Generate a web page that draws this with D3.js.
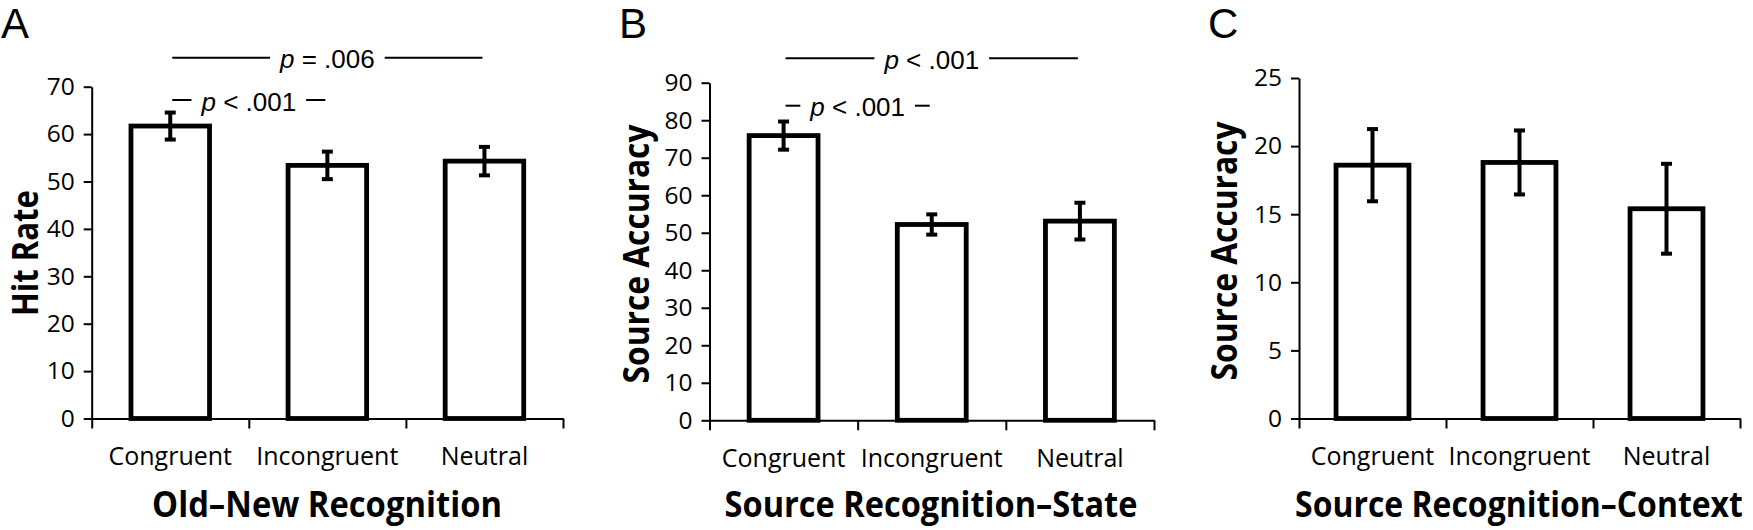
<!DOCTYPE html>
<html>
<head>
<meta charset="utf-8">
<script src="https://cdn.jsdelivr.net/npm/d3@7"></script>
<style>
  html, body { margin: 0; padding: 0; background: #fff; }
  svg { display: block; }
</style>
</head>
<body>
<svg id="chart" width="1753" height="530"></svg>
<script>
// ---------------- DATA ----------------
const categories = ["Congruent", "Incongruent", "Neutral"];

const hitRate      = [61.7, 53.4, 54.3];
const hitRateErr   = [2.85, 2.9, 3.0];

const stateAcc     = [75.9, 52.2, 53.1];
const stateAccErr  = [3.75, 2.7, 4.9];

const contextAcc    = [18.6, 18.8, 15.4];
const contextAccErr = [2.65, 2.35, 3.3];

const yTicksA = [0, 10, 20, 30, 40, 50, 60, 70];
const yTicksB = [0, 10, 20, 30, 40, 50, 60, 70, 80, 90];
const yTicksC = [0, 5, 10, 15, 20, 25];

const panelLetters = ["A", "B", "C"];
const xTitles = ["Old\u2013New Recognition", "Source Recognition\u2013State", "Source Recognition\u2013Context"];
const yTitles = ["Hit Rate", "Source Accuracy", "Source Accuracy"];

// comparisons: [fromIndex, toIndex, relation]
const comparisonsA = [[0, 1, "< .001"], [0, 2, "= .006"]];
const comparisonsB = [[0, 1, "< .001"], [0, 2, "< .001"]];
const comparisonsC = [];

// ---------------- LAYOUT ----------------
const W = 1753, H = 530;
const layouts = [
  {left: 91.7, right: 563, top: 86.7, bottom: 418.5, barRatio: 0.5, xTitleX: 327,
   yTitleX: 18, yTitleY: 253, yTitleW: 126, xTitleW: 350, letterX: 1, bracketY: [100, 57.7]},
  {left: 709.5, right: 1154, top: 82.7, bottom: 420.3, barRatio: 0.465, xTitleX: 931,
   yTitleX: 636, yTitleY: 254, yTitleW: 259, xTitleW: 413, letterX: 619, bracketY: [105.7, 58.3]},
  {left: 1299, right: 1740, top: 78, bottom: 418.5, barRatio: 0.496, xTitleX: 1519,
   yTitleX: 1224, yTitleY: 251, yTitleW: 259, xTitleW: 448, letterX: 1208, bracketY: []}
];

const panels = [
  {values: hitRate, errors: hitRateErr, ticks: yTicksA, comps: comparisonsA},
  {values: stateAcc, errors: stateAccErr, ticks: yTicksB, comps: comparisonsB},
  {values: contextAcc, errors: contextAccErr, ticks: yTicksC, comps: comparisonsC}
];

const BODY_FONT = "'Open Sans', 'Noto Sans', sans-serif";
const P_FONT = "'Liberation Sans', Arial, sans-serif";
const TITLE_SIZE = 35;

const svg = d3.select("#chart");

// Squeeze a title horizontally (in its own text direction) to a target length,
// then nudge it so that its box stays inside the picture.
function placeTitle(sel, x, y, rot, target) {
  const w = sel.node().getComputedTextLength();
  const sx = target / w;
  const apply = (px, py) => sel.attr("transform",
    `translate(${px},${py})` + (rot ? ` rotate(${rot})` : "") + ` scale(${sx},1)`);
  apply(x, y);
  const r = sel.node().getBoundingClientRect();
  let dx = 0;
  if (r.left < 1) dx = 1 - r.left;
  if (r.right > W - 1) dx = (W - 1) - r.right;
  if (dx) apply(x + dx, y);
}

panels.forEach((p, i) => {
  const L = layouts[i];
  const g = svg.append("g");

  const y = d3.scaleLinear().domain([0, d3.max(p.ticks)]).range([L.bottom, L.top]);
  const xb = d3.scaleBand().domain(categories).range([L.left, L.right])
      .paddingInner(1 - L.barRatio).paddingOuter((1 - L.barRatio) / 2);
  const xc = d3.scaleBand().domain(categories).range([L.left, L.right]);
  const xEdge = d3.scaleLinear().domain([0, categories.length]).range([L.left, L.right]);

  // bars
  g.selectAll("rect.bar").data(categories).join("rect")
    .attr("class", "bar")
    .attr("x", d => xb(d))
    .attr("width", xb.bandwidth())
    .attr("y", (d, k) => y(p.values[k]))
    .attr("height", (d, k) => y(0) - y(p.values[k]))
    .attr("fill", "#fff")
    .attr("stroke", "#000")
    .attr("stroke-width", 4.8);

  // error bars
  const eg = g.selectAll("g.err").data(categories).join("g").attr("class", "err");
  eg.append("line")
    .attr("x1", d => xc(d) + xc.bandwidth() / 2)
    .attr("x2", d => xc(d) + xc.bandwidth() / 2)
    .attr("y1", (d, k) => y(p.values[k] + p.errors[k]))
    .attr("y2", (d, k) => y(p.values[k] - p.errors[k]))
    .attr("stroke", "#000").attr("stroke-width", 4);
  [1, -1].forEach(s => {
    eg.append("line")
      .attr("x1", d => xc(d) + xc.bandwidth() / 2 - 5.5)
      .attr("x2", d => xc(d) + xc.bandwidth() / 2 + 5.5)
      .attr("y1", (d, k) => y(p.values[k] + s * p.errors[k]))
      .attr("y2", (d, k) => y(p.values[k] + s * p.errors[k]))
      .attr("stroke", "#000").attr("stroke-width", 4);
  });

  // y axis
  const ya = g.append("g").attr("transform", `translate(${L.left},0)`)
    .call(d3.axisLeft(y).tickValues(p.ticks).tickSize(8).tickSizeOuter(0).tickPadding(9).tickFormat(d3.format("d")));
  ya.select(".domain").attr("stroke-width", 2);
  ya.selectAll(".tick line").attr("stroke-width", 2);
  ya.selectAll(".tick text").attr("font-family", BODY_FONT).attr("font-size", 24.5).attr("fill", "#000");

  // x axis (ticks at category boundaries)
  const xa = g.append("g").attr("transform", `translate(0,${L.bottom})`)
    .call(d3.axisBottom(xEdge).tickValues(d3.range(categories.length + 1)).tickSize(10).tickSizeOuter(0).tickFormat(""));
  xa.select(".domain").attr("stroke-width", 2);
  xa.selectAll(".tick line").attr("stroke-width", 2);

  // category labels
  g.selectAll("text.cat").data(categories).join("text")
    .attr("class", "cat")
    .attr("x", d => xc(d) + xc.bandwidth() / 2)
    .attr("y", L.bottom + 46.5)
    .attr("text-anchor", "middle")
    .attr("font-family", BODY_FONT).attr("font-size", 25).attr("fill", "#000")
    .text(d => d);

  // x title
  const xt = g.append("text")
    .attr("text-anchor", "middle")
    .attr("font-family", BODY_FONT).attr("font-weight", "bold").attr("font-size", TITLE_SIZE).attr("fill", "#000")
    .text(xTitles[i]);
  placeTitle(xt, L.xTitleX, 517, 0, L.xTitleW);

  // y title
  const yt = g.append("text")
    .attr("dy", "0.36em")
    .attr("text-anchor", "middle")
    .attr("font-family", BODY_FONT).attr("font-weight", "bold").attr("font-size", TITLE_SIZE).attr("fill", "#000")
    .text(yTitles[i]);
  placeTitle(yt, L.yTitleX, L.yTitleY, -90, L.yTitleW);

  // panel letter
  g.append("text")
    .attr("x", L.letterX).attr("y", 38)
    .attr("font-family", P_FONT).attr("font-size", 42).attr("fill", "#000")
    .text(panelLetters[i]);

  // significance brackets
  p.comps.forEach((c, k) => {
    const ly = L.bracketY[k];
    const xa1 = xc(categories[c[0]]) + xc.bandwidth() / 2 + 2;
    const xa2 = xc(categories[c[1]]) + xc.bandwidth() / 2 - 2;
    const mid = (xa1 + xa2) / 2;
    const t = g.append("text")
      .attr("x", mid).attr("y", ly + 10.5)
      .attr("text-anchor", "middle")
      .attr("font-family", P_FONT).attr("font-size", 26).attr("fill", "#000");
    t.append("tspan").attr("font-style", "italic").text("p");
    t.append("tspan").text(" " + c[2]);
    const w = t.node().getComputedTextLength();
    const gap = 10;
    g.append("line").attr("x1", xa1).attr("x2", mid - w / 2 - gap)
      .attr("y1", ly).attr("y2", ly).attr("stroke", "#000").attr("stroke-width", 2);
    g.append("line").attr("x1", mid + w / 2 + gap).attr("x2", xa2)
      .attr("y1", ly).attr("y2", ly).attr("stroke", "#000").attr("stroke-width", 2);
  });
});
</script>
</body>
</html>
